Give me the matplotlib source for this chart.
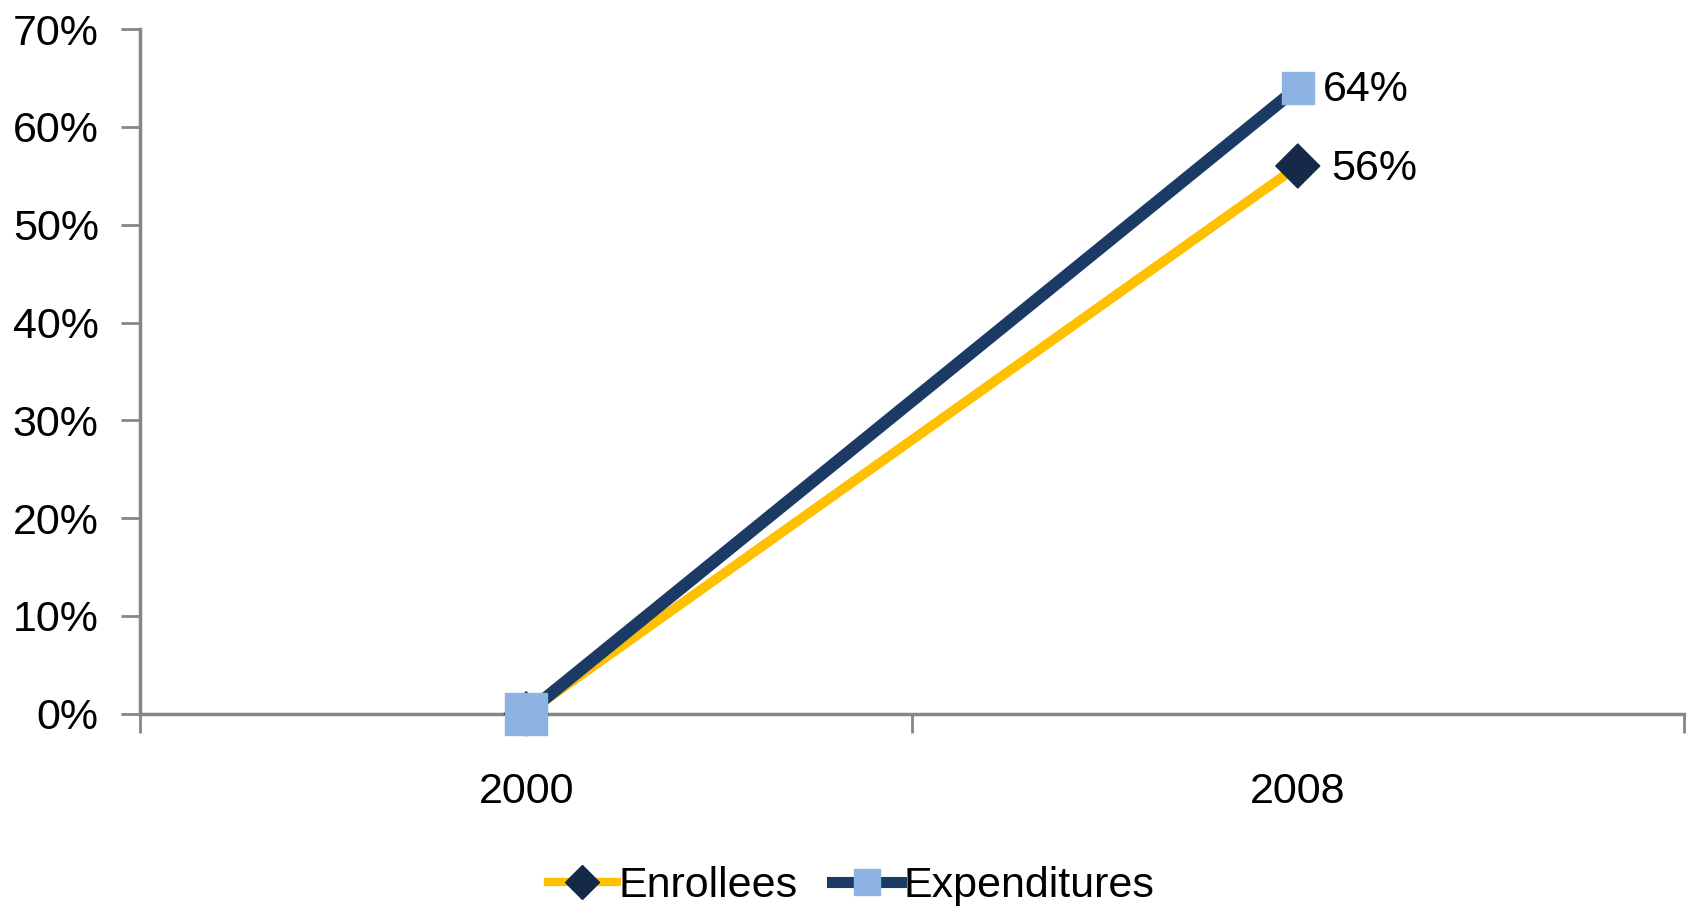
import matplotlib.pyplot as plt
from matplotlib.ticker import FuncFormatter
from matplotlib.lines import Line2D

plt.rcParams['font.family'] = ['Liberation Sans', 'DejaVu Sans']

years = ['2000', '2008']
enrollees = [0, 56]
expenditures = [0, 64]

navy = '#1B3A66'
gold = '#FFC000'
light_blue = '#8DB3E2'
dark_diamond = '#152A48'
gray = '#868686'

fig = plt.figure(figsize=(16.92, 9.07), dpi=100)
ax = fig.add_axes([0.083, 0.213, 0.912, 0.755])

x = list(range(len(years)))
ax.plot(x, enrollees, color=gold, linewidth=7, solid_capstyle='butt', zorder=3)
ax.scatter(x, enrollees, marker='D', s=[500, 500], color=dark_diamond,
           zorder=4, clip_on=False)
ax.plot(x, expenditures, color=navy, linewidth=9, solid_capstyle='butt', zorder=5)
ax.scatter(x, expenditures, marker='s', s=[900, 520], color=light_blue,
           zorder=6, clip_on=False)

ax.annotate(f'{enrollees[-1]}%', (x[-1], enrollees[-1]), xytext=(24, -2),
            textcoords='offset points', va='center', ha='left', fontsize=31)
ax.annotate(f'{expenditures[-1]}%', (x[-1], expenditures[-1]), xytext=(18, -2),
            textcoords='offset points', va='center', ha='left', fontsize=31)

ax.set_xlim(-0.5, 1.5)
ax.set_ylim(0, 70)
ax.set_yticks(range(0, 71, 10))
ax.yaxis.set_major_formatter(FuncFormatter(lambda v, p: f'{v:.0f}%'))
ax.set_xticks([-0.5, 0.5, 1.5])
ax.set_xticklabels([])
ax.set_xticks(x, minor=True)
ax.set_xticklabels(years, minor=True)
ax.tick_params(axis='x', which='minor', length=0, labelsize=31, pad=42)
ax.tick_params(axis='x', which='major', length=14, width=2, color=gray, direction='out')
ax.tick_params(axis='y', length=14, width=2, color=gray, labelsize=31, pad=16)

for s in ['top', 'right']:
    ax.spines[s].set_visible(False)
for s in ['left', 'bottom']:
    ax.spines[s].set_color(gray)
    ax.spines[s].set_linewidth(2.5)
ax.spines['bottom'].set_zorder(1)

handles = [
    Line2D([], [], color=gold, linewidth=6, marker='D', markersize=17,
           markerfacecolor=dark_diamond, markeredgecolor=dark_diamond),
    Line2D([], [], color=navy, linewidth=8, marker='s', markersize=19,
           markerfacecolor=light_blue, markeredgecolor=light_blue),
]
fig.legend(handles, ['Enrollees', 'Expenditures'], loc='lower center',
           bbox_to_anchor=(0.503, -0.042), ncol=2, frameon=False, fontsize=31,
           handlelength=1.6, handletextpad=0.05, columnspacing=0.8)

fig.savefig('out.png', dpi=100)
